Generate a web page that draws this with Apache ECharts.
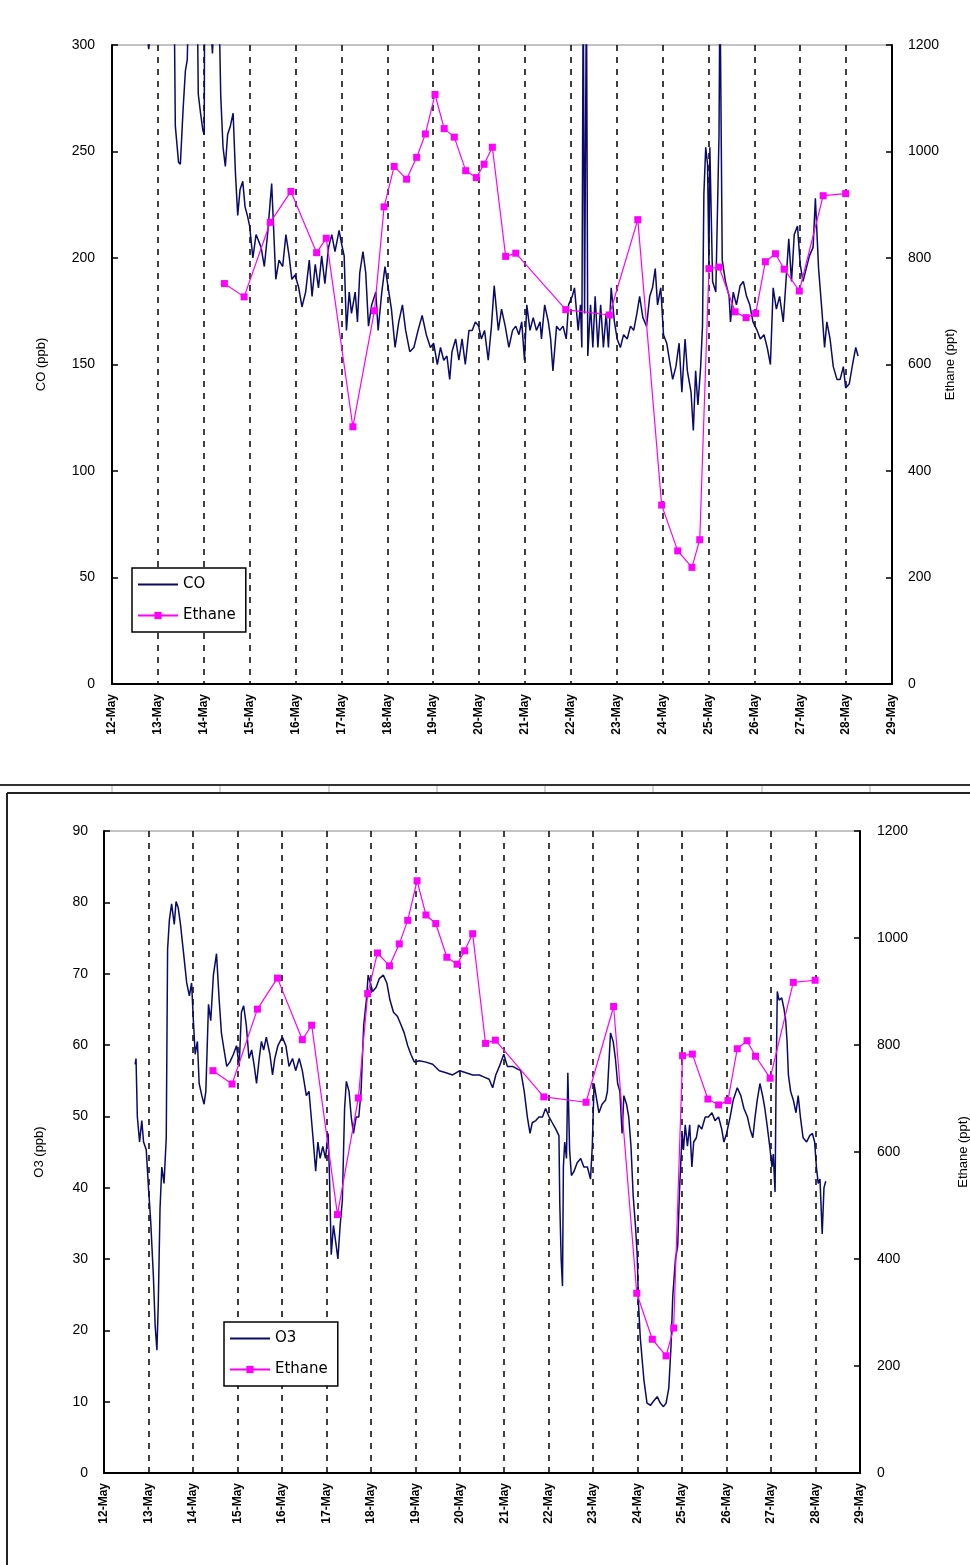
<!DOCTYPE html>
<html>
<head>
<meta charset="utf-8">
<script src="https://cdn.jsdelivr.net/npm/echarts@6/dist/echarts.min.js"></script>
<style>
html,body{margin:0;padding:0;background:#fff;}
#chart{width:970px;height:1565px;}
</style>
</head>
<body>
<div id="chart"></div>
<script>
// ---- data (day of May, value) ----
const coTime = [12.76,12.80,12.84,12.95,13.10,13.25,13.36,13.38,13.45,13.49,13.55,13.60,13.64,13.68,13.80,13.86,13.88,13.93,13.98,14.01,14.02,14.12,14.19,14.23,14.34,14.37,14.42,14.47,14.52,14.58,14.64,14.69,14.74,14.79,14.85,14.90,14.95,15.00,
15.07,15.14,15.25,15.32,15.39,15.48,15.51,15.57,15.64,15.72,15.79,15.86,15.92,15.99,16.07,16.14,16.22,16.30,16.36,16.43,16.50,16.57,16.64,16.72,16.79,16.86,16.95,17.00,17.06,17.11,17.17,17.22,17.30,17.35,17.40,17.47,17.53,17.59,17.66,17.75,17.80,17.88,17.95,18.02,18.09,18.17,18.25,18.33,18.40,18.49,18.58,18.67,18.76,18.85,18.94,19.01,19.09,19.16,19.23,19.30,19.36,19.41,19.49,19.56,19.63,19.70,19.78,19.85,19.92,19.99,20.05,20.12,20.20,20.27,20.33,
20.42,20.49,20.57,20.65,20.73,20.80,20.87,20.93,20.99,21.04,21.11,21.18,21.25,21.33,21.36,21.43,21.51,21.56,21.61,21.69,21.76,21.83,21.90,21.95,22.03,22.08,22.16,22.21,22.24,22.27,22.30,22.34,22.37,22.43,22.48,22.53,22.59,22.65,22.71,22.77,22.82,22.88,22.95,23.01,23.08,23.15,23.23,23.30,23.37,23.44,23.50,23.57,23.65,23.72,23.78,23.84,23.89,23.96,24.02,24.09,24.15,24.22,24.29,24.36,24.42,24.49,24.54,24.62,24.67,24.72,24.77,24.83,24.87,24.90,24.94,24.98,25.01,25.03,25.09,25.16,25.23,25.25,25.30,25.37,25.45,25.48,25.54,25.61,25.69,25.76,25.83,25.90,25.97,26.06,26.13,26.21,26.28,26.35,26.41,26.48,26.55,26.63,26.68,26.75,26.81,26.87,26.94,27.00,27.06,27.13,27.20,27.28,27.33,27.40,27.47,27.53,27.58,27.65,27.72,27.80,27.87,27.94,27.99,28.07,28.14,28.21,28.26];
const coPpb = [306,298,306,340,360,330,310,262,245,244,270,288,293,330,340,320,277,268,260,258,330,320,296,320,310,276,252,243,258,262,268,240,220,232,236,224,220,215,
200,211,205,196,211,235,220,190,199,196,211,201,190,192,186,177,184,199,182,197,186,201,188,205,211,203,213,207,201,166,184,174,184,170,193,203,193,168,178,184,166,184,196,186,176,158,170,178,166,156,158,166,173,164,158,160,150,158,152,154,143,156,162,152,162,150,166,166,170,168,162,166,152,168,187,
166,176,168,158,166,168,164,170,152,178,166,172,166,170,162,178,170,162,147,168,166,168,162,178,182,186,166,178,158,330,174,330,154,178,158,182,158,178,158,174,158,186,170,162,158,164,162,168,166,174,182,172,168,182,186,195,178,186,164,160,152,143,149,160,137,162,147,137,119,147,131,149,168,230,252,244,197,252,189,184,258,330,199,189,182,170,184,178,187,189,182,178,170,166,162,164,158,150,186,176,182,170,186,209,189,211,215,197,189,195,201,205,228,195,176,158,170,162,149,143,143,149,139,141,150,158,154];

const o3Time = [12.70,12.72,12.75,12.80,12.85,12.89,12.95,13.00,13.05,13.11,13.15,13.19,13.22,13.26,13.30,13.35,13.40,13.43,13.47,13.52,13.58,13.62,13.67,13.72,13.78,13.86,13.92,13.97,14.01,14.05,14.10,14.14,14.20,14.25,14.29,14.35,14.40,14.46,14.53,14.59,14.64,14.70,14.76,14.83,14.91,14.98,15.04,15.09,15.14,15.20,15.26,15.32,15.38,15.43,15.49,15.54,15.59,15.65,15.73,15.79,15.84,15.91,16.01,16.09,16.16,16.24,16.31,16.39,16.46,16.55,16.61,16.66,16.70,16.76,16.81,16.86,16.92,16.98,17.04,17.07,17.11,17.16,17.21,17.26,17.31,17.36,17.41,17.45,17.51,17.56,17.61,17.67,17.73,17.78,17.84,17.90,17.94,17.99,18.04,18.12,18.19,18.28,18.36,18.43,18.51,18.60,18.68,18.75,18.83,18.90,18.98,19.09,19.24,19.39,19.54,19.69,19.84,20.00,20.14,20.29,20.44,20.55,20.66,20.74,20.81,20.89,20.99,21.07,21.19,21.28,21.37,21.45,21.52,21.58,21.63,21.71,21.78,21.86,21.93,22.01,22.08,22.16,22.23,22.25,22.28,22.31,22.33,22.36,22.40,22.43,22.47,22.51,22.57,22.64,22.72,22.79,22.87,22.94,22.98,23.02,23.08,23.13,23.20,23.28,23.32,23.35,23.39,23.45,23.50,23.55,23.60,23.65,23.69,23.75,23.80,23.85,23.90,23.95,23.99,24.02,24.06,24.14,24.21,24.29,24.36,24.44,24.51,24.58,24.64,24.70,24.75,24.79,24.85,24.90,24.94,24.97,25.00,25.03,25.07,25.12,25.17,25.22,25.26,25.32,25.37,25.44,25.52,25.59,25.67,25.74,25.82,25.89,25.94,26.00,26.08,26.15,26.24,26.32,26.39,26.47,26.53,26.59,26.64,26.69,26.75,26.81,26.86,26.91,26.97,27.02,27.05,27.09,27.11,27.14,27.18,27.24,27.29,27.33,27.36,27.39,27.44,27.50,27.56,27.61,27.66,27.72,27.80,27.87,27.93,27.98,28.02,28.06,28.10,28.15,28.19,28.23];
const o3Ppb = [57.3,58.1,49.9,46.4,49.4,46.4,45.3,40.0,35.3,27.7,20.7,17.2,23.6,37.1,42.9,40.6,47.0,73.4,77.5,79.8,76.9,80.1,79.2,76.9,73.4,68.7,66.9,68.7,63.4,58.7,60.5,54.6,52.9,51.7,53.5,65.7,63.4,69.8,72.8,66.3,61.7,59.3,57.0,57.6,58.7,59.9,57.0,64.6,65.5,62.8,58.1,59.3,57.0,54.6,58.1,60.5,59.3,61.1,58.7,55.8,58.1,59.9,61.1,59.9,57.0,58.1,56.4,58.1,56.4,52.9,53.5,49.9,47.0,42.3,46.4,44.1,45.8,44.1,47.6,41.7,30.6,34.7,32.4,30.0,34.7,38.2,51.1,54.9,53.5,49.9,47.6,49.9,49.9,53.5,62.8,66.3,69.8,68.7,67.5,68.1,69.3,69.8,68.7,66.3,64.6,64.0,62.8,61.7,59.9,58.7,57.6,57.8,57.6,57.3,56.4,56.1,55.8,56.4,56.1,55.8,55.8,55.5,55.2,54.0,55.8,57.0,58.7,57.0,57.0,56.7,56.4,53.5,49.9,47.6,49.1,49.4,49.9,49.9,51.1,49.9,49.1,48.2,47.3,37.6,30.0,26.2,42.9,46.4,44.1,56.1,45.3,41.7,42.3,43.5,44.1,42.9,42.9,41.2,45.8,54.6,52.3,50.5,51.7,52.3,53.5,57.0,61.7,60.5,58.1,54.6,53.5,47.6,52.9,51.7,49.9,45.8,38.8,34.7,30.6,23.6,18.9,13.1,9.8,9.5,10.1,10.7,9.8,9.3,9.8,11.9,17.7,24.8,30.0,31.8,39.4,43.5,47.6,45.3,48.8,45.8,48.8,42.9,46.4,47.0,48.8,48.2,49.9,49.9,50.5,49.4,49.9,48.2,46.4,47.6,49.9,52.3,54.0,52.9,51.1,49.9,48.2,47.0,49.9,52.3,54.6,52.9,51.1,48.8,45.8,42.9,44.7,39.4,52.9,67.5,66.3,66.6,65.1,63.4,60.5,55.8,53.5,52.3,50.5,52.9,49.9,47.0,46.4,47.3,47.6,46.4,42.9,40.6,41.2,33.5,40.0,40.9];

const ethaneTime = [14.45,14.88,15.45,15.90,16.46,16.67,17.25,17.72,17.93,18.15,18.42,18.64,18.83,19.04,19.24,19.46,19.71,19.94,20.11,20.29,20.58,20.80,21.89,22.84,23.46,23.98,24.33,24.64,24.81,25.01,25.23,25.58,25.82,26.03,26.24,26.46,26.65,26.98,27.50,27.99];
const ethanePpt = [752,727,867,925,810,837,483,701,896,972,948,989,1033,1107,1043,1027,964,951,976,1008,803,809,703,693,872,336,250,219,271,780,783,699,688,696,793,808,779,738,917,921];

const dayTicks = {min: 12, max: 29, step: 1};
const monthLabel = 'May';

// ---- build ----
function pairs(xs, ys){ return xs.map((x,i)=>[x, ys[i]]); }
const coData = pairs(coTime, coPpb);
const o3Data = pairs(o3Time, o3Ppb);
const ethData = pairs(ethaneTime, ethanePpt);

const FONT = "'Liberation Sans', Arial, sans-serif";
const LFONT = "'DejaVu Sans', sans-serif";
const NAVY = '#0a0a6a';
const MAG = '#ff00ff';

function xAxis(gi){
  return {
    type:'value', gridIndex: gi, min: dayTicks.min, max: dayTicks.max, interval: dayTicks.step,
    axisLine:{show:true, onZero:false, lineStyle:{color:'#000', width:2}},
    axisTick:{show:false},
    axisLabel:{rotate:90, margin:10, color:'#000', fontFamily:FONT, fontSize:12, fontWeight:'bold',
      showMinLabel:true, showMaxLabel:true, formatter: v => v + '-' + monthLabel},
    splitLine:{show:true, lineStyle:{color:'#000', width:1.5, type:[6,6]}}
  };
}
function yAxis(gi, pos, max, interval, name, nameGap, labelMargin, noMove){
  const ax = {
    type:'value', gridIndex: gi, position: pos, min:0, max:max, interval:interval,
    name: name, nameLocation:'middle', nameRotate:90, nameGap:nameGap,
    nameTextStyle:{color:'#000', fontFamily:FONT, fontSize:13},
    axisLine:{show:true, lineStyle:{color:'#000', width:2}},
    axisTick:{show:true, inside:true, length:6, lineStyle:{color:'#000', width:1.5}},
    axisLabel:{color:'#000', fontFamily:FONT, fontSize:14, margin:labelMargin, formatter: v => String(v)},
    splitLine:{show:false}
  };
  if (noMove) ax.nameMoveOverlap = false;
  return ax;
}
function legend(left, top, first){
  return {
    left:left, top:top, orient:'vertical',
    data:[{name:first, itemStyle:{opacity:0}}, {name:'Ethane'}],
    backgroundColor:'#fff', borderColor:'#000', borderWidth:1.5, borderRadius:0,
    padding:[9,10,9,5], itemGap:16, itemWidth:40, itemHeight:9,
    textStyle:{fontFamily:LFONT, fontSize:15, color:'#000', padding:[0,0,0,0]},
    selectedMode:false
  };
}

const option = {
  backgroundColor:'#fff',
  animation:false,
  grid:[
    {left:112, top:45, width:780, height:639, show:true, borderColor:'#888', borderWidth:1, backgroundColor:'#fff', containLabel:false, outerBoundsMode:'none'},
    {left:104, top:831, width:756, height:642, show:true, borderColor:'#888', borderWidth:1, backgroundColor:'#fff', containLabel:false, outerBoundsMode:'none'}
  ],
  xAxis:[xAxis(0), xAxis(1)],
  yAxis:[
    yAxis(0,'left',300,50,'CO (ppb)',64,17,false),
    yAxis(0,'right',1200,200,'Ethane (ppt)',52,16,true),
    yAxis(1,'left',90,10,'O3 (ppb)',58,16,false),
    yAxis(1,'right',1200,200,'Ethane (ppt)',97,17,true)
  ],
  legend:[legend(132,568,'CO'), legend(224,1322,'O3')],
  series:[
    {name:'CO', type:'line', xAxisIndex:0, yAxisIndex:0, data:coData, showSymbol:false, symbol:'none',
     clip:true, lineStyle:{color:NAVY, width:1.5}, itemStyle:{color:NAVY}, z:3},
    {name:'Ethane', type:'line', xAxisIndex:0, yAxisIndex:1, data:ethData, symbol:'rect', symbolSize:7,
     clip:true, lineStyle:{color:MAG, width:1.2}, itemStyle:{color:MAG}, z:4},
    {name:'O3', type:'line', xAxisIndex:1, yAxisIndex:2, data:o3Data, showSymbol:false, symbol:'none',
     clip:true, lineStyle:{color:NAVY, width:1.5}, itemStyle:{color:NAVY}, z:3},
    {name:'Ethane', type:'line', xAxisIndex:1, yAxisIndex:3, data:ethData, symbol:'rect', symbolSize:7,
     clip:true, lineStyle:{color:MAG, width:1.2}, itemStyle:{color:MAG}, z:4}
  ],
  graphic:[
    {type:'line', shape:{x1:0,y1:785,x2:970,y2:785}, style:{stroke:'#333', lineWidth:2}},
    {type:'line', shape:{x1:7,y1:793,x2:970,y2:793}, style:{stroke:'#222', lineWidth:2}},
    {type:'line', shape:{x1:7,y1:793,x2:7,y2:1565}, style:{stroke:'#222', lineWidth:2}},
    {type:'group', children:[112,220,329,437,545,653,762,870].map(x=>(
      {type:'line', shape:{x1:x,y1:786,x2:x,y2:792}, style:{stroke:'#aaa', lineWidth:1}}))}
  ]
};

const chart = echarts.init(document.getElementById('chart'), null, {renderer:'canvas'});
chart.setOption(option);
</script>
</body>
</html>
